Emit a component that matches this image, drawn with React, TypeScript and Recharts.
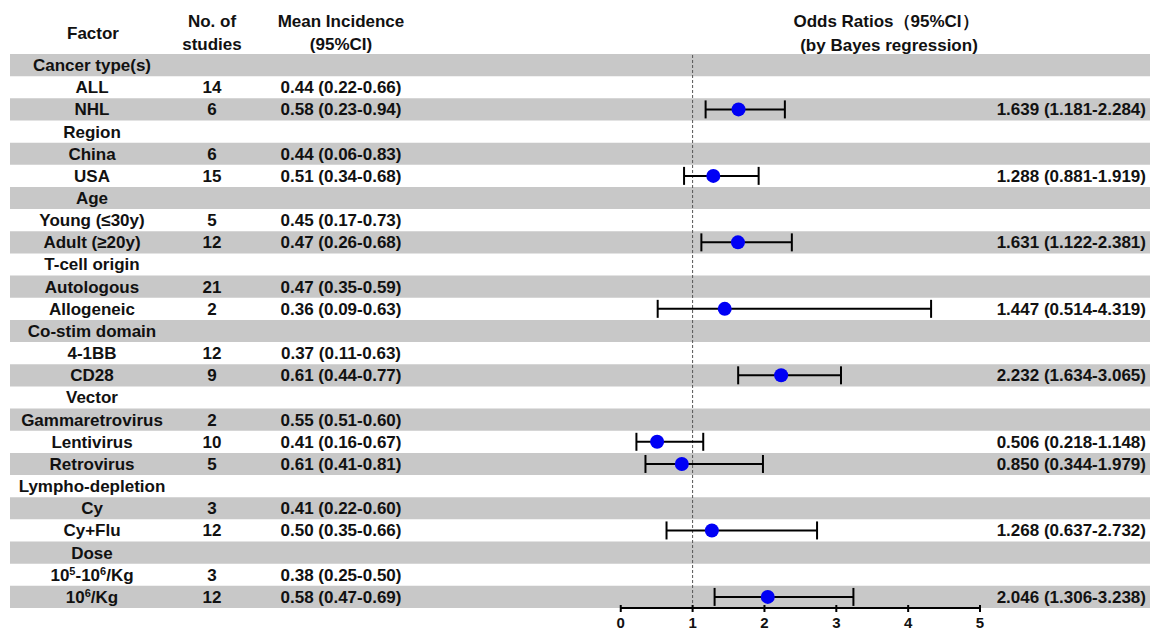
import React from "react";
import { ErrorBar, ReferenceArea, ReferenceLine, Scatter, ScatterChart, XAxis, YAxis } from "recharts";

const factors = [
  "Cancer type(s)", "ALL", "NHL", "Region", "China", "USA", "Age", "Young (≤30y)", "Adult (≥20y)",
  "T-cell origin", "Autologous", "Allogeneic", "Co-stim domain", "4-1BB", "CD28", "Vector",
  "Gammaretrovirus", "Lentivirus", "Retrovirus", "Lympho-depletion", "Cy", "Cy+Flu", "Dose",
  "10⁵-10⁶/Kg", "10⁶/Kg",
];
const studies = ["", "14", "6", "", "6", "15", "", "5", "12", "", "21", "2", "", "12", "9", "", "2", "10", "5", "", "3", "12", "", "3", "12"];
const incidence = [
  "", "0.44 (0.22-0.66)", "0.58 (0.23-0.94)", "", "0.44 (0.06-0.83)", "0.51 (0.34-0.68)", "",
  "0.45 (0.17-0.73)", "0.47 (0.26-0.68)", "", "0.47 (0.35-0.59)", "0.36 (0.09-0.63)", "",
  "0.37 (0.11-0.63)", "0.61 (0.44-0.77)", "", "0.55 (0.51-0.60)", "0.41 (0.16-0.67)",
  "0.61 (0.41-0.81)", "", "0.41 (0.22-0.60)", "0.50 (0.35-0.66)", "", "0.38 (0.25-0.50)", "0.58 (0.47-0.69)",
];

// odds ratios, only for some rows
const orRows = [2, 5, 8, 11, 14, 17, 18, 21, 24];
const orMean = [1.639, 1.288, 1.631, 1.447, 2.232, 0.506, 0.85, 1.268, 2.046];
const orLow = [1.181, 0.881, 1.122, 0.514, 1.634, 0.218, 0.344, 0.637, 1.306];
const orHigh = [2.284, 1.919, 2.381, 4.319, 3.065, 1.148, 1.979, 2.732, 3.238];
const xTicks = [0, 1, 2, 3, 4, 5];

const points = orRows.map((row, i) => ({
  x: orMean[i],
  y: row,
  err: [orMean[i] - orLow[i], orHigh[i] - orMean[i]],
}));

const orText: Record<number, string> = {};
orRows.forEach((row, i) => {
  orText[row] = `${orMean[i].toFixed(3)} (${orLow[i].toFixed(3)}-${orHigh[i].toFixed(3)})`;
});

const rowIdx = factors.map((_, i) => i);
const FONT = "'Liberation Sans', Arial, sans-serif";
const TXT = "#111";
const BAND = "#c8c8c8";

function SupText({ text }: { text: string }) {
  // render unicode superscript digits as raised small text
  const parts: React.ReactNode[] = [];
  let buf = "";
  let k = 0;
  const flush = () => {
    if (buf) parts.push(<tspan key={k++}>{buf}</tspan>);
    buf = "";
  };
  for (const ch of text) {
    const sup = ch === "⁵" ? "5" : ch === "⁶" ? "6" : null;
    if (sup) {
      flush();
      parts.push(
        <tspan key={k++} fontSize={11} baselineShift="6">
          {sup}
        </tspan>
      );
    } else buf += ch;
  }
  flush();
  return <>{parts}</>;
}

const RowTick = (props: any) => {
  const { y, payload } = props;
  const i = payload.value as number;
  const common = { fontFamily: FONT, fontWeight: 700, fontSize: 17, fill: TXT, dy: "0.35em" };
  return (
    <g>
      <text x={84} y={y} textAnchor="middle" {...common}>
        <SupText text={factors[i]} />
      </text>
      {studies[i] && (
        <text x={204} y={y} textAnchor="middle" {...common}>
          {studies[i]}
        </text>
      )}
      {incidence[i] && (
        <text x={333} y={y} textAnchor="middle" {...common}>
          {incidence[i]}
        </text>
      )}
      {orText[i] && (
        <text x={1138} y={y} textAnchor="end" {...common}>
          {orText[i]}
        </text>
      )}
    </g>
  );
};

const AxisTick = (props: any) => {
  const { x, y, payload } = props;
  return (
    <g>
      <line x1={x} x2={x} y1={y - 3} y2={y + 4} stroke="#000" strokeWidth={2} />
      <text x={x} y={y + 20} textAnchor="middle" fontFamily={FONT} fontWeight={700} fontSize={15} fill={TXT}>
        {payload.value}
      </text>
    </g>
  );
};

const Dot = (props: any) => <circle cx={props.cx} cy={props.cy} r={7} fill="#0000f5" />;

export default function App() {
  const head = { fontFamily: FONT, fontWeight: 700, fontSize: 17, fill: TXT, textAnchor: "middle" as const };
  return (
    <div style={{ position: "relative", width: 1150, height: 622 }}>
      <ScatterChart width={1150} height={622} margin={{ top: 46, right: 0, bottom: 0, left: 1 }}>
        {rowIdx
          .filter((i) => i % 2 === 0)
          .map((i) => (
            <ReferenceArea key={i} y1={i - 0.5} y2={i + 0.5} fill={BAND} fillOpacity={1} stroke="none" ifOverflow="visible" />
          ))}
        <XAxis
          type="number"
          dataKey="x"
          domain={[-8.5, 7.477]}
          ticks={xTicks}
          allowDataOverflow
          axisLine={false}
          tickLine={false}
          tickSize={0}
          tickMargin={0}
          height={22}
          tick={<AxisTick />}
        />
        <YAxis
          type="number"
          dataKey="y"
          domain={[-0.5, 24.5]}
          ticks={rowIdx}
          interval={0}
          reversed
          allowDataOverflow
          width={1}
          axisLine={false}
          tickLine={false}
          tick={<RowTick />}
        />
        <ReferenceLine x={1} stroke="#555" strokeDasharray="3 2" strokeWidth={1} />
        <ReferenceLine
          segment={[{ x: 0, y: 24.5 }, { x: 5, y: 24.5 }]}
          stroke="#000"
          strokeWidth={2}
          ifOverflow="visible"
        />
        <Scatter data={points} shape={<Dot />} isAnimationActive={false}>
          <ErrorBar dataKey="err" direction="x" width={9} stroke="#000" strokeWidth={2} isAnimationActive={false} />
        </Scatter>
      </ScatterChart>
      <svg width={1150} height={60} style={{ position: "absolute", left: 0, top: 0, pointerEvents: "none" }}>
        <text x={85} y={25} dy="0.35em" {...head}>Factor</text>
        <text x={204} y={13} dy="0.35em" {...head}>No. of</text>
        <text x={204} y={36} dy="0.35em" {...head}>studies</text>
        <text x={333} y={13} dy="0.35em" {...head}>Mean Incidence</text>
        <text x={333} y={36} dy="0.35em" {...head}>(95%CI)</text>
        <text x={878} y={13} dy="0.35em" {...head}>Odds Ratios（95%CI）</text>
        <text x={881} y={37} dy="0.35em" {...head}>(by Bayes regression)</text>
      </svg>
    </div>
  );
}
